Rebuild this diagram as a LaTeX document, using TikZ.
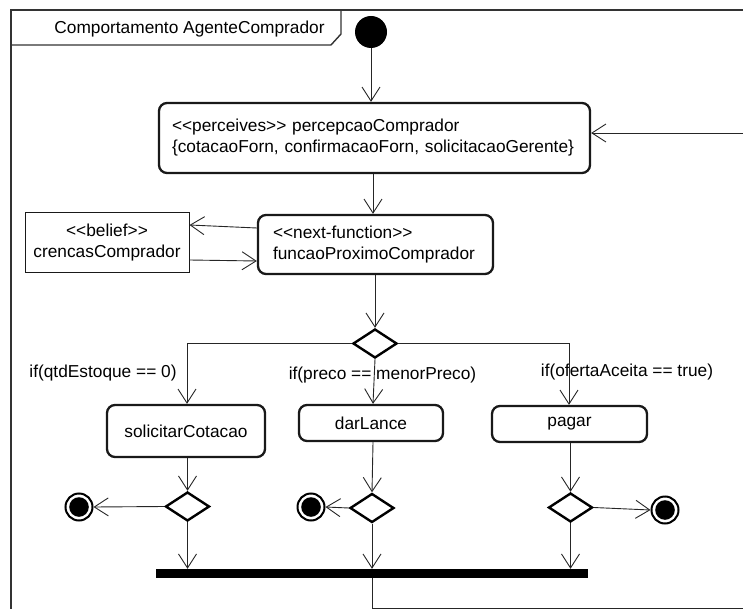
\documentclass[tikz,border=0pt]{standalone}
\usepackage{fontspec}
\setmainfont{Liberation Sans}
\usetikzlibrary{arrows.meta,shapes.geometric}
% stereotype brackets kept as plain less/greater signs
\newcommand\stl{\mbox{<}\mbox{<}}
\newcommand\str{\mbox{>}\mbox{>}}
\begin{document}
\begin{tikzpicture}[x=1pt,y=-1pt,
  font=\fontsize{17.3}{21}\selectfont,
  wire/.style={draw=black!85, line width=0.9pt},
  flow/.style={wire, -{Straight Barb[length=14pt,width=18pt]}},
  act/.style={draw=black!90, rounded corners=8pt, line width=2.3pt, inner sep=0pt, fill=white},
  choice/.style={diamond, draw=black, line width=2.4pt, minimum width=44pt, minimum height=29pt, inner sep=0pt, fill=white},
  final/.style={circle, draw=black, line width=2pt, minimum size=27pt, inner sep=0pt, fill=white,
    path picture={\fill[black] (path picture bounding box.center) circle (9.8pt);}},
  frameline/.style={draw=black!80, line width=1.4pt}]
\useasboundingbox (0,0) rectangle (743,609);

% diagram frame and its name tab
\draw[frameline] (11,612) -- (11,10) -- (746,10);
\draw[frameline] (11,45) -- (331,45) -- (341,34) -- (341,10);
\node (title) at (189.5,29) {Comportamento AgenteComprador};

% nodes
\node[circle, fill=black, minimum size=32pt, inner sep=0pt] (start) at (371,32) {};
\node[act, minimum width=431pt, minimum height=70pt, text width=405pt, align=left] (perc) at (374.5,138)
  {\stl perceives\str{} percepcaoComprador\\\{cotacaoForn, confirmacaoForn, solicitacaoGerente\}};
\node[act, minimum width=235pt, minimum height=59pt, text width=205pt, align=left] (nf) at (375.5,244.5)
  {\stl next-function\str\\funcaoProximoComprador};
\node[draw=black!90, line width=1pt, minimum width=164pt, minimum height=59pt, inner sep=0pt, align=center] (bel) at (107,242.5)
  {\stl belief\str\\crencasComprador};
\node[choice] (d0) at (375,343.5) {};

\node[act, minimum width=158pt, minimum height=52pt] (sc) at (186,431) {solicitarCotacao};
\node[act, minimum width=144pt, minimum height=36pt] (dl) at (371,423) {darLance};
\node[act, minimum width=155pt, minimum height=36pt] (pg) at (569.5,424) {pagar};

\node (l1) at (103,373) {if(qtdEstoque == 0)};
\node (l2) at (382.5,375) {if(preco == menorPreco)};
\node (l3) at (627,372) {if(ofertaAceita == true)};

\node[choice] (d1) at (187.5,506.5) {};
\node[choice] (d2) at (372,508) {};
\node[choice] (d3) at (570.5,507.5) {};

\node[final] (f1) at (79,507) {};
\node[final] (f2) at (311,507) {};
\node[final] (f3) at (665,510) {};

\node[fill=black, minimum width=432pt, minimum height=9pt, inner sep=0pt] (bar) at (372,573.5) {};

\coordinate (loopin) at (746,133);
\coordinate (loopout) at (746,608);

% connectors
\draw[flow] (start) -- (start |- perc.north);
\draw[flow] (loopin) -- (loopin -| perc.east);
\draw[flow] (perc.south -| 373,0) -- (nf.north -| 373,0);
\draw[flow] ([yshift=16.5pt]nf.west) -- ([yshift=17.5pt]bel.east);
\draw[flow] ([yshift=-17.5pt]bel.east) -- ([yshift=-16.5pt]nf.west);
\draw[flow] (nf.south -| d0.north) -- (d0.north);
\draw[flow] (d0.west) -| (sc.north -| 187,0);
\draw[flow] (d0.south) -- (dl.north -| 373,0);
\draw[flow] (d0.east) -| (pg.north -| 569,0);
\draw[flow] (sc.south -| d1.north) -- (d1.north);
\draw[flow] (dl.south -| 373,0) -- (d2.north);
\draw[flow] (pg.south -| d3.north) -- (d3.north);
\draw[flow] (d1.west) -- (f1.east);
\draw[flow] (d2.west) -- (f2.east);
\draw[flow] (d3.east) -- (f3.west);
\draw[flow] (d1.south) -- (d1.south |- bar.north);
\draw[flow] (d2.south) -- (d2.south |- bar.north);
\draw[flow] (d3.south) -- (d3.south |- bar.north);
\draw[wire] (bar.south -| d2.south) |- (loopout);
\end{tikzpicture}
\end{document}
